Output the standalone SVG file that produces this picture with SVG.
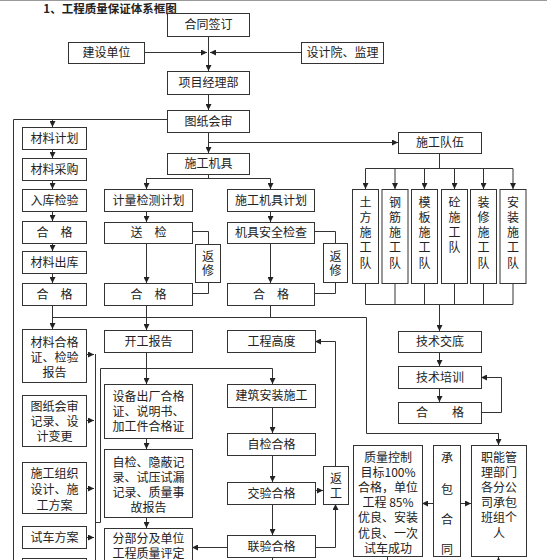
<svg xmlns="http://www.w3.org/2000/svg" width="547" height="560" viewBox="0 0 547 560">
<style>
.b{fill:#fff;stroke:#333;stroke-width:1}
.t{font-family:"Noto Sans CJK SC","Noto Sans",sans-serif;font-size:12px;fill:#222;text-anchor:middle}
.c{fill:none;stroke:#333;stroke-width:1}
.a{fill:none;stroke:#333;stroke-width:1;marker-end:url(#ah)}
</style>
<defs>
<marker id="ah" markerUnits="userSpaceOnUse" markerWidth="7" markerHeight="6" refX="6" refY="3" orient="auto">
<path d="M0,0 L6,3 L0,6 z" fill="#222"/>
</marker>
</defs>
<rect x="0" y="0" width="547" height="560" fill="#fff"/>
<line x1="0" y1="0.5" x2="547" y2="0.5" stroke="#999" stroke-width="1"/>
<text x="110" y="12.5" class="t" style="font-weight:bold;font-size:11.5px">1、工程质量保证体系框图</text>

<g id="connectors">
<path class="a" d="M208.5,36 V71"/>
<path class="a" d="M144,52.5 H207"/>
<path class="a" d="M301,52.5 H210"/>
<path class="a" d="M208.5,94 V110"/>
<path class="a" d="M208.5,132 V153"/>
<path class="a" d="M208.5,142.5 H398"/>
<path class="c" d="M167,119.5 H13.5 V560"/>
<path class="a" d="M52.5,119.5 V127"/>
<path class="a" d="M52.5,149 V158"/>
<path class="a" d="M52.5,180 V189"/>
<path class="a" d="M52.5,211 V221"/>
<path class="a" d="M52.5,243 V251"/>
<path class="a" d="M52.5,273 V283"/>
<path class="a" d="M52.5,305 V329"/>
<path class="c" d="M52.5,317.5 H366.5 V433.5 H498.5"/>
<path class="a" d="M498.5,433 V445"/>
<path class="c" d="M208.5,174 V178.5 M146.5,178.5 H270.5"/>
<path class="a" d="M146.5,178.5 V189"/>
<path class="a" d="M270.5,178.5 V189"/>
<path class="a" d="M146.5,211 V222"/>
<path class="a" d="M146.5,243 V283"/>
<path class="a" d="M270.5,211 V222"/>
<path class="a" d="M270.5,243 V283"/>
<path class="c" d="M192,231.5 H208.5 V244 M208.5,282 V293.5 H192"/>
<path class="c" d="M314,231.5 H335.5 V243 M335.5,282 V293.5 H314"/>
<path class="a" d="M146.5,305 V330"/>
<path class="c" d="M270.5,305 V317.5"/>
<path class="c" d="M439.5,153 V168.5 M365.5,168.5 H513"/>
<path class="a" d="M365.5,168.5 V189"/>
<path class="a" d="M395,168.5 V189"/>
<path class="a" d="M424.5,168.5 V189"/>
<path class="a" d="M454.5,168.5 V189"/>
<path class="a" d="M483.5,168.5 V189"/>
<path class="a" d="M513,168.5 V189"/>
<path class="c" d="M365.5,283 V304.5 M395,283 V304.5 M424.5,283 V304.5 M454.5,283 V304.5 M483.5,283 V304.5 M513,283 V304.5 M365.5,304.5 H513"/>
<path class="a" d="M439.5,304.5 V331"/>
<path class="a" d="M439.5,352 V366"/>
<path class="a" d="M439.5,388 V402"/>
<path class="a" d="M481,412.5 H501.5 V377.5 H481"/>
<path class="a" d="M146.5,352 V384"/>
<path class="c" d="M100.5,522.5 V368.5 H272.5"/>
<path class="a" d="M272.5,368.5 V384"/>
<path class="c" d="M95.5,354 V560 M95.5,522.5 H100.5"/>
<path class="a" d="M86,354.5 H94"/>
<path class="a" d="M86,420.5 H94"/>
<path class="a" d="M86,488.5 H94"/>
<path class="a" d="M86,537.5 H94"/>
<path class="a" d="M146.5,438 V449"/>
<path class="a" d="M146.5,517 V528"/>
<path class="a" d="M272.5,407 V433"/>
<path class="a" d="M272.5,455 V482"/>
<path class="a" d="M272.5,504 V535"/>
<path class="c" d="M272.5,557 V560"/>
<path class="a" d="M335.5,466 V341.5 H315"/>
<path class="a" d="M315,490.5 H323"/>
<path class="a" d="M315,547.5 H335.5 V504"/>
<path class="a" d="M227,547.5 H192"/>
<path class="a" d="M433,503.5 H422"/>
<path class="a" d="M460,503.5 H471"/>
<path class="c" d="M387.5,557 V560"/>
<path class="a" d="M498.5,562 V557"/>
</g>

<g id="n_hetong"><rect class="b" x="167.5" y="13.5" width="82" height="23"/><text class="t" x="208.5" y="29">合同签订</text></g>
<g id="n_jianshe"><rect class="b" x="68.5" y="42.5" width="76" height="21"/><text class="t" x="106.5" y="57">建设单位</text></g>
<g id="n_sheji"><rect class="b" x="301.5" y="42.5" width="82" height="21"/><text class="t" x="342.5" y="57">设计院、监理</text></g>
<g id="n_xiangmu"><rect class="b" x="167.5" y="71.5" width="82" height="23"/><text class="t" x="208.5" y="87">项目经理部</text></g>
<g id="n_tuzhi"><rect class="b" x="167.5" y="110.5" width="82" height="22"/><text class="t" x="208.5" y="125.5">图纸会审</text></g>
<g id="n_jiju"><rect class="b" x="167.5" y="153.5" width="82" height="21"/><text class="t" x="208.5" y="168">施工机具</text></g>
<g id="n_duiwu"><rect class="b" x="398.5" y="132.5" width="83" height="21"/><text class="t" x="440" y="147">施工队伍</text></g>

<g id="n_cljh"><rect class="b" x="22.5" y="127.5" width="64" height="22"/><text class="t" x="54.5" y="142.5">材料计划</text></g>
<g id="n_clcg"><rect class="b" x="22.5" y="158.5" width="64" height="22"/><text class="t" x="54.5" y="173.5">材料采购</text></g>
<g id="n_rkjy"><rect class="b" x="22.5" y="189.5" width="64" height="22"/><text class="t" x="54.5" y="204.5">入库检验</text></g>
<g id="n_hg1"><rect class="b" x="22.5" y="221.5" width="64" height="22"/><text class="t" x="54.5" y="236.5">合　格</text></g>
<g id="n_clck"><rect class="b" x="22.5" y="251.5" width="64" height="22"/><text class="t" x="54.5" y="266.5">材料出库</text></g>
<g id="n_hg2"><rect class="b" x="22.5" y="283.5" width="64" height="22"/><text class="t" x="54.5" y="298.5">合　格</text></g>

<g id="n_jljc"><rect class="b" x="104.5" y="189.5" width="88" height="22"/><text class="t" x="148.5" y="204.5">计量检测计划</text></g>
<g id="n_songjian"><rect class="b" x="104.5" y="222.5" width="88" height="21"/><text class="t" x="148.5" y="237">送　检</text></g>
<g id="n_fanxiu1"><rect class="b" x="195.5" y="244.5" width="25" height="38"/><text class="t" x="208" y="260.5">返<tspan x="208" dy="14.5">修</tspan></text></g>
<g id="n_hg3"><rect class="b" x="104.5" y="283.5" width="88" height="22"/><text class="t" x="148.5" y="298.5">合　格</text></g>

<g id="n_jjjh"><rect class="b" x="227.5" y="189.5" width="87" height="22"/><text class="t" x="271" y="204.5">施工机具计划</text></g>
<g id="n_jjaq"><rect class="b" x="227.5" y="222.5" width="87" height="21"/><text class="t" x="271" y="237">机具安全检查</text></g>
<g id="n_fanxiu2"><rect class="b" x="323.5" y="243.5" width="24" height="39"/><text class="t" x="335.5" y="260.5">返<tspan x="335.5" dy="14.5">修</tspan></text></g>
<g id="n_hg4"><rect class="b" x="227.5" y="283.5" width="87" height="22"/><text class="t" x="271" y="298.5">合　格</text></g>

<g id="n_tf"><rect class="b" x="352.5" y="189.5" width="26" height="94"/><text class="t" x="365.5" y="206.5">土<tspan x="365.5" dy="15.3">方</tspan><tspan x="365.5" dy="15.3">施</tspan><tspan x="365.5" dy="15.3">工</tspan><tspan x="365.5" dy="15.3">队</tspan></text></g>
<g id="n_gj"><rect class="b" x="382" y="189.5" width="26" height="94"/><text class="t" x="395" y="206.5">钢<tspan x="395" dy="15.3">筋</tspan><tspan x="395" dy="15.3">施</tspan><tspan x="395" dy="15.3">工</tspan><tspan x="395" dy="15.3">队</tspan></text></g>
<g id="n_mb"><rect class="b" x="411.5" y="189.5" width="26" height="94"/><text class="t" x="424.5" y="206.5">模<tspan x="424.5" dy="15.3">板</tspan><tspan x="424.5" dy="15.3">施</tspan><tspan x="424.5" dy="15.3">工</tspan><tspan x="424.5" dy="15.3">队</tspan></text></g>
<g id="n_tong"><rect class="b" x="441.5" y="189.5" width="26" height="94"/><text class="t" x="454.5" y="206.5">砼<tspan x="454.5" dy="15.3">施</tspan><tspan x="454.5" dy="15.3">工</tspan><tspan x="454.5" dy="15.3">队</tspan></text></g>
<g id="n_zx"><rect class="b" x="470.5" y="189.5" width="26" height="94"/><text class="t" x="483.5" y="206.5">装<tspan x="483.5" dy="15.3">修</tspan><tspan x="483.5" dy="15.3">施</tspan><tspan x="483.5" dy="15.3">工</tspan><tspan x="483.5" dy="15.3">队</tspan></text></g>
<g id="n_az"><rect class="b" x="500" y="189.5" width="26" height="94"/><text class="t" x="513" y="206.5">安<tspan x="513" dy="15.3">装</tspan><tspan x="513" dy="15.3">施</tspan><tspan x="513" dy="15.3">工</tspan><tspan x="513" dy="15.3">队</tspan></text></g>

<g id="n_jsjd"><rect class="b" x="398.5" y="331.5" width="83" height="21"/><text class="t" x="440" y="346">技术交底</text></g>
<g id="n_jspx"><rect class="b" x="398.5" y="366.5" width="83" height="22"/><text class="t" x="440" y="381.5">技术培训</text></g>
<g id="n_hg5"><rect class="b" x="398.5" y="402.5" width="83" height="21"/><text class="t" x="440" y="417">合　　格</text></g>

<g id="n_clhg"><rect class="b" x="22.5" y="329.5" width="64" height="53"/><text class="t" x="54.5" y="346.5">材料合格<tspan x="54.5" dy="15">证、检验</tspan><tspan x="54.5" dy="15">报告</tspan></text></g>
<g id="n_tzjl"><rect class="b" x="22.5" y="395.5" width="64" height="51"/><text class="t" x="54.5" y="411">图纸会审<tspan x="54.5" dy="15">记录、设</tspan><tspan x="54.5" dy="15">计变更</tspan></text></g>
<g id="n_sgzz"><rect class="b" x="22.5" y="462.5" width="64" height="51"/><text class="t" x="54.5" y="477.5">施工组织<tspan x="54.5" dy="16">设计、施</tspan><tspan x="54.5" dy="16">工方案</tspan></text></g>
<g id="n_scfa"><rect class="b" x="22.5" y="526.5" width="64" height="22"/><text class="t" x="54.5" y="541.5">试车方案</text></g>
<g id="n_more"><rect class="b" x="22.5" y="558.5" width="64" height="12"/></g>

<g id="n_kgbg"><rect class="b" x="104.5" y="330.5" width="88" height="22"/><text class="t" x="148.5" y="345.5">开工报告</text></g>
<g id="n_sbcc"><rect class="b" x="104.5" y="384.5" width="88" height="54"/><text class="t" x="148.5" y="400.5">设备出厂合格<tspan x="148.5" dy="15">证、说明书、</tspan><tspan x="148.5" dy="15">加工件合格证</tspan></text></g>
<g id="n_zjyb"><rect class="b" x="104.5" y="449.5" width="88" height="68"/><text class="t" x="148.5" y="466.5">自检、隐蔽记<tspan x="148.5" dy="15">录、试压试漏</tspan><tspan x="148.5" dy="15">记录、质量事</tspan><tspan x="148.5" dy="15">故报告</tspan></text></g>
<g id="n_fbfx"><rect class="b" x="104.5" y="528.5" width="88" height="40"/><text class="t" x="148.5" y="543">分部分及单位<tspan x="148.5" dy="15">工程质量评定</tspan></text></g>

<g id="n_gcgd"><rect class="b" x="227.5" y="330.5" width="88" height="22"/><text class="t" x="271.5" y="345.5">工程高度</text></g>
<g id="n_jzaz"><rect class="b" x="227.5" y="384.5" width="88" height="23"/><text class="t" x="271.5" y="400">建筑安装施工</text></g>
<g id="n_zjhg"><rect class="b" x="227.5" y="433.5" width="88" height="22"/><text class="t" x="271.5" y="448.5">自检合格</text></g>
<g id="n_jyhg"><rect class="b" x="227.5" y="482.5" width="88" height="22"/><text class="t" x="271.5" y="497.5">交验合格</text></g>
<g id="n_lyhg"><rect class="b" x="227.5" y="535.5" width="88" height="22"/><text class="t" x="271.5" y="550.5">联验合格</text></g>
<g id="n_fangong"><rect class="b" x="323.5" y="466.5" width="25" height="38"/><text class="t" x="336" y="482.5">返<tspan x="336" dy="15">工</tspan></text></g>

<g id="n_zlkz"><rect class="b" x="353.5" y="445.5" width="69" height="111"/><text class="t" x="388" y="461.5">质量控制<tspan x="388" dy="15.2">目标100%</tspan><tspan x="388" dy="15.2">合格，单位</tspan><tspan x="388" dy="15.2">工程 85%</tspan><tspan x="388" dy="15.2">优良、安装</tspan><tspan x="388" dy="15.2">优良、一次</tspan><tspan x="388" dy="15.2">试车成功</tspan></text></g>
<g id="n_cbht"><rect class="b" x="433.5" y="445.5" width="27" height="111"/><text class="t" x="447" y="461.5">承<tspan x="447" dy="32">包</tspan><tspan x="447" dy="30">合</tspan><tspan x="447" dy="30">同</tspan></text></g>
<g id="n_zngl"><rect class="b" x="471.5" y="445.5" width="55" height="111"/><text class="t" x="499" y="461.5">职能管<tspan x="499" dy="15.2">理部门</tspan><tspan x="499" dy="15.2">各分公</tspan><tspan x="499" dy="15.2">司承包</tspan><tspan x="499" dy="15.2">班组个</tspan><tspan x="499" dy="15.2">人</tspan></text></g>
</svg>
